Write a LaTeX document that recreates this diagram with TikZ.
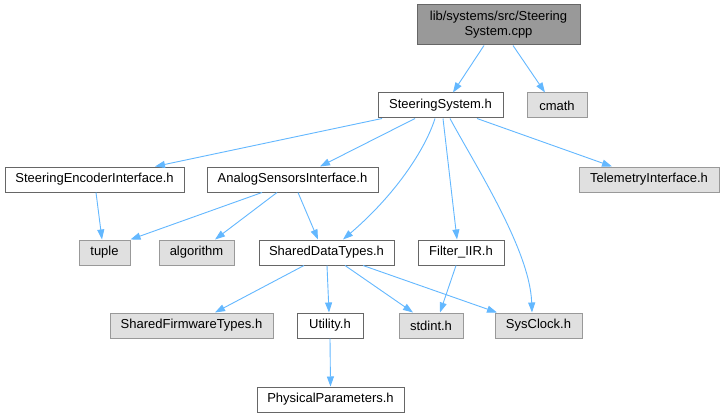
\documentclass[tikz,border=0pt]{standalone}
\usepackage{fontspec}
\setmainfont{Liberation Sans}
\usetikzlibrary{arrows.meta}
\definecolor{edgeblue}{RGB}{99,184,255}
\definecolor{boxgray}{RGB}{102,102,102}
\definecolor{extgray}{RGB}{224,224,224}
\definecolor{extborder}{RGB}{153,153,153}
\definecolor{topgray}{RGB}{153,153,153}

\tikzset{
  file/.style={draw=boxgray, fill=white, line width=1pt, minimum height=25pt,
    inner sep=0pt, font=\fontsize{13}{15}\selectfont},
  extfile/.style={file, draw=extborder, fill=extgray},
  edge/.style={draw=edgeblue, line width=0.9pt, -{Triangle[length=10pt,width=7pt]}}
}

\begin{document}
\begin{tikzpicture}[x=1pt,y=-1pt]

% Background
\fill[white] (0,0) rectangle (725,417);
\useasboundingbox (0,0) rectangle (725,417);

% Source file
\node[file, fill=topgray, minimum width=163pt, minimum height=40pt, align=center] (cpp) at (498.5,25) {lib/systems/src/Steering\\System.cpp};

% Level 1
\node[file, minimum width=125pt] (ssh) at (440.5,105.5) {SteeringSystem.h};
\node[extfile, minimum width=60pt] (cmath) at (557,105.5) {cmath};

% Level 2
\node[file, minimum width=179pt] (enc) at (94.5,179.5) {SteeringEncoderInterface.h};
\node[file, minimum width=171pt] (asi) at (292.5,179.5) {AnalogSensorsInterface.h};
\node[extfile, minimum width=140pt] (tel) at (649,179.5) {TelemetryInterface.h};

% Level 3
\node[extfile, minimum width=51pt] (tuple) at (104.5,252.5) {tuple};
\node[extfile, minimum width=75pt] (algo) at (196.5,252.5) {algorithm};
\node[file, minimum width=135pt] (sdt) at (326.5,252.5) {SharedDataTypes.h};
\node[file, minimum width=86pt] (fiir) at (461,252.5) {Filter\_IIR.h};

% Level 4
\node[extfile, minimum width=163pt] (sft) at (191.5,325.5) {SharedFirmwareTypes.h};
\node[file, minimum width=66pt] (util) at (330,325.5) {Utility.h};
\node[extfile, minimum width=64pt] (stdint) at (431,325.5) {stdint.h};
\node[extfile, minimum width=87pt] (sysclk) at (538.5,325.5) {SysClock.h};

% Level 5
\node[file, minimum width=147pt] (phys) at (330.5,399.5) {PhysicalParameters.h};

% Straight includes (from/shift/to/shift)
\foreach \a/\sa/\b/\sb in {
cpp/-14.5/ssh/12.5, cpp/14.5/cmath/-12,
ssh/-58.5/enc/60.5, ssh/-25.5/asi/27.5, ssh/2.5/fiir/-4, ssh/36.5/tel/-37,
enc/1.5/tuple/-2.5, asi/-15.5/algo/18.5, asi/5.5/sdt/-8.5,
sdt/-22.5/sft/23.5, sdt/0.5/util/-1, sdt/18.5/stdint/-18, sdt/36.5/sysclk/-41.5,
fiir/-5/stdint/9, util/0/phys/0
} {
    \draw[edge] ([xshift=\sa]\a.south) -- ([xshift=\sb]\b.north);
}
\draw[edge] ([xshift=-30.5]asi.south) -- (tuple.north east);

% Curved includes
\draw[edge] ([xshift=-5.5]ssh.south) .. controls (425,150) and (395,195) .. ([xshift=16.5]sdt.north);
\draw[edge] ([xshift=9.5]ssh.south) .. controls (475,165) and (530,250) .. ([xshift=-6.5]sysclk.north);

\end{tikzpicture}
\end{document}
